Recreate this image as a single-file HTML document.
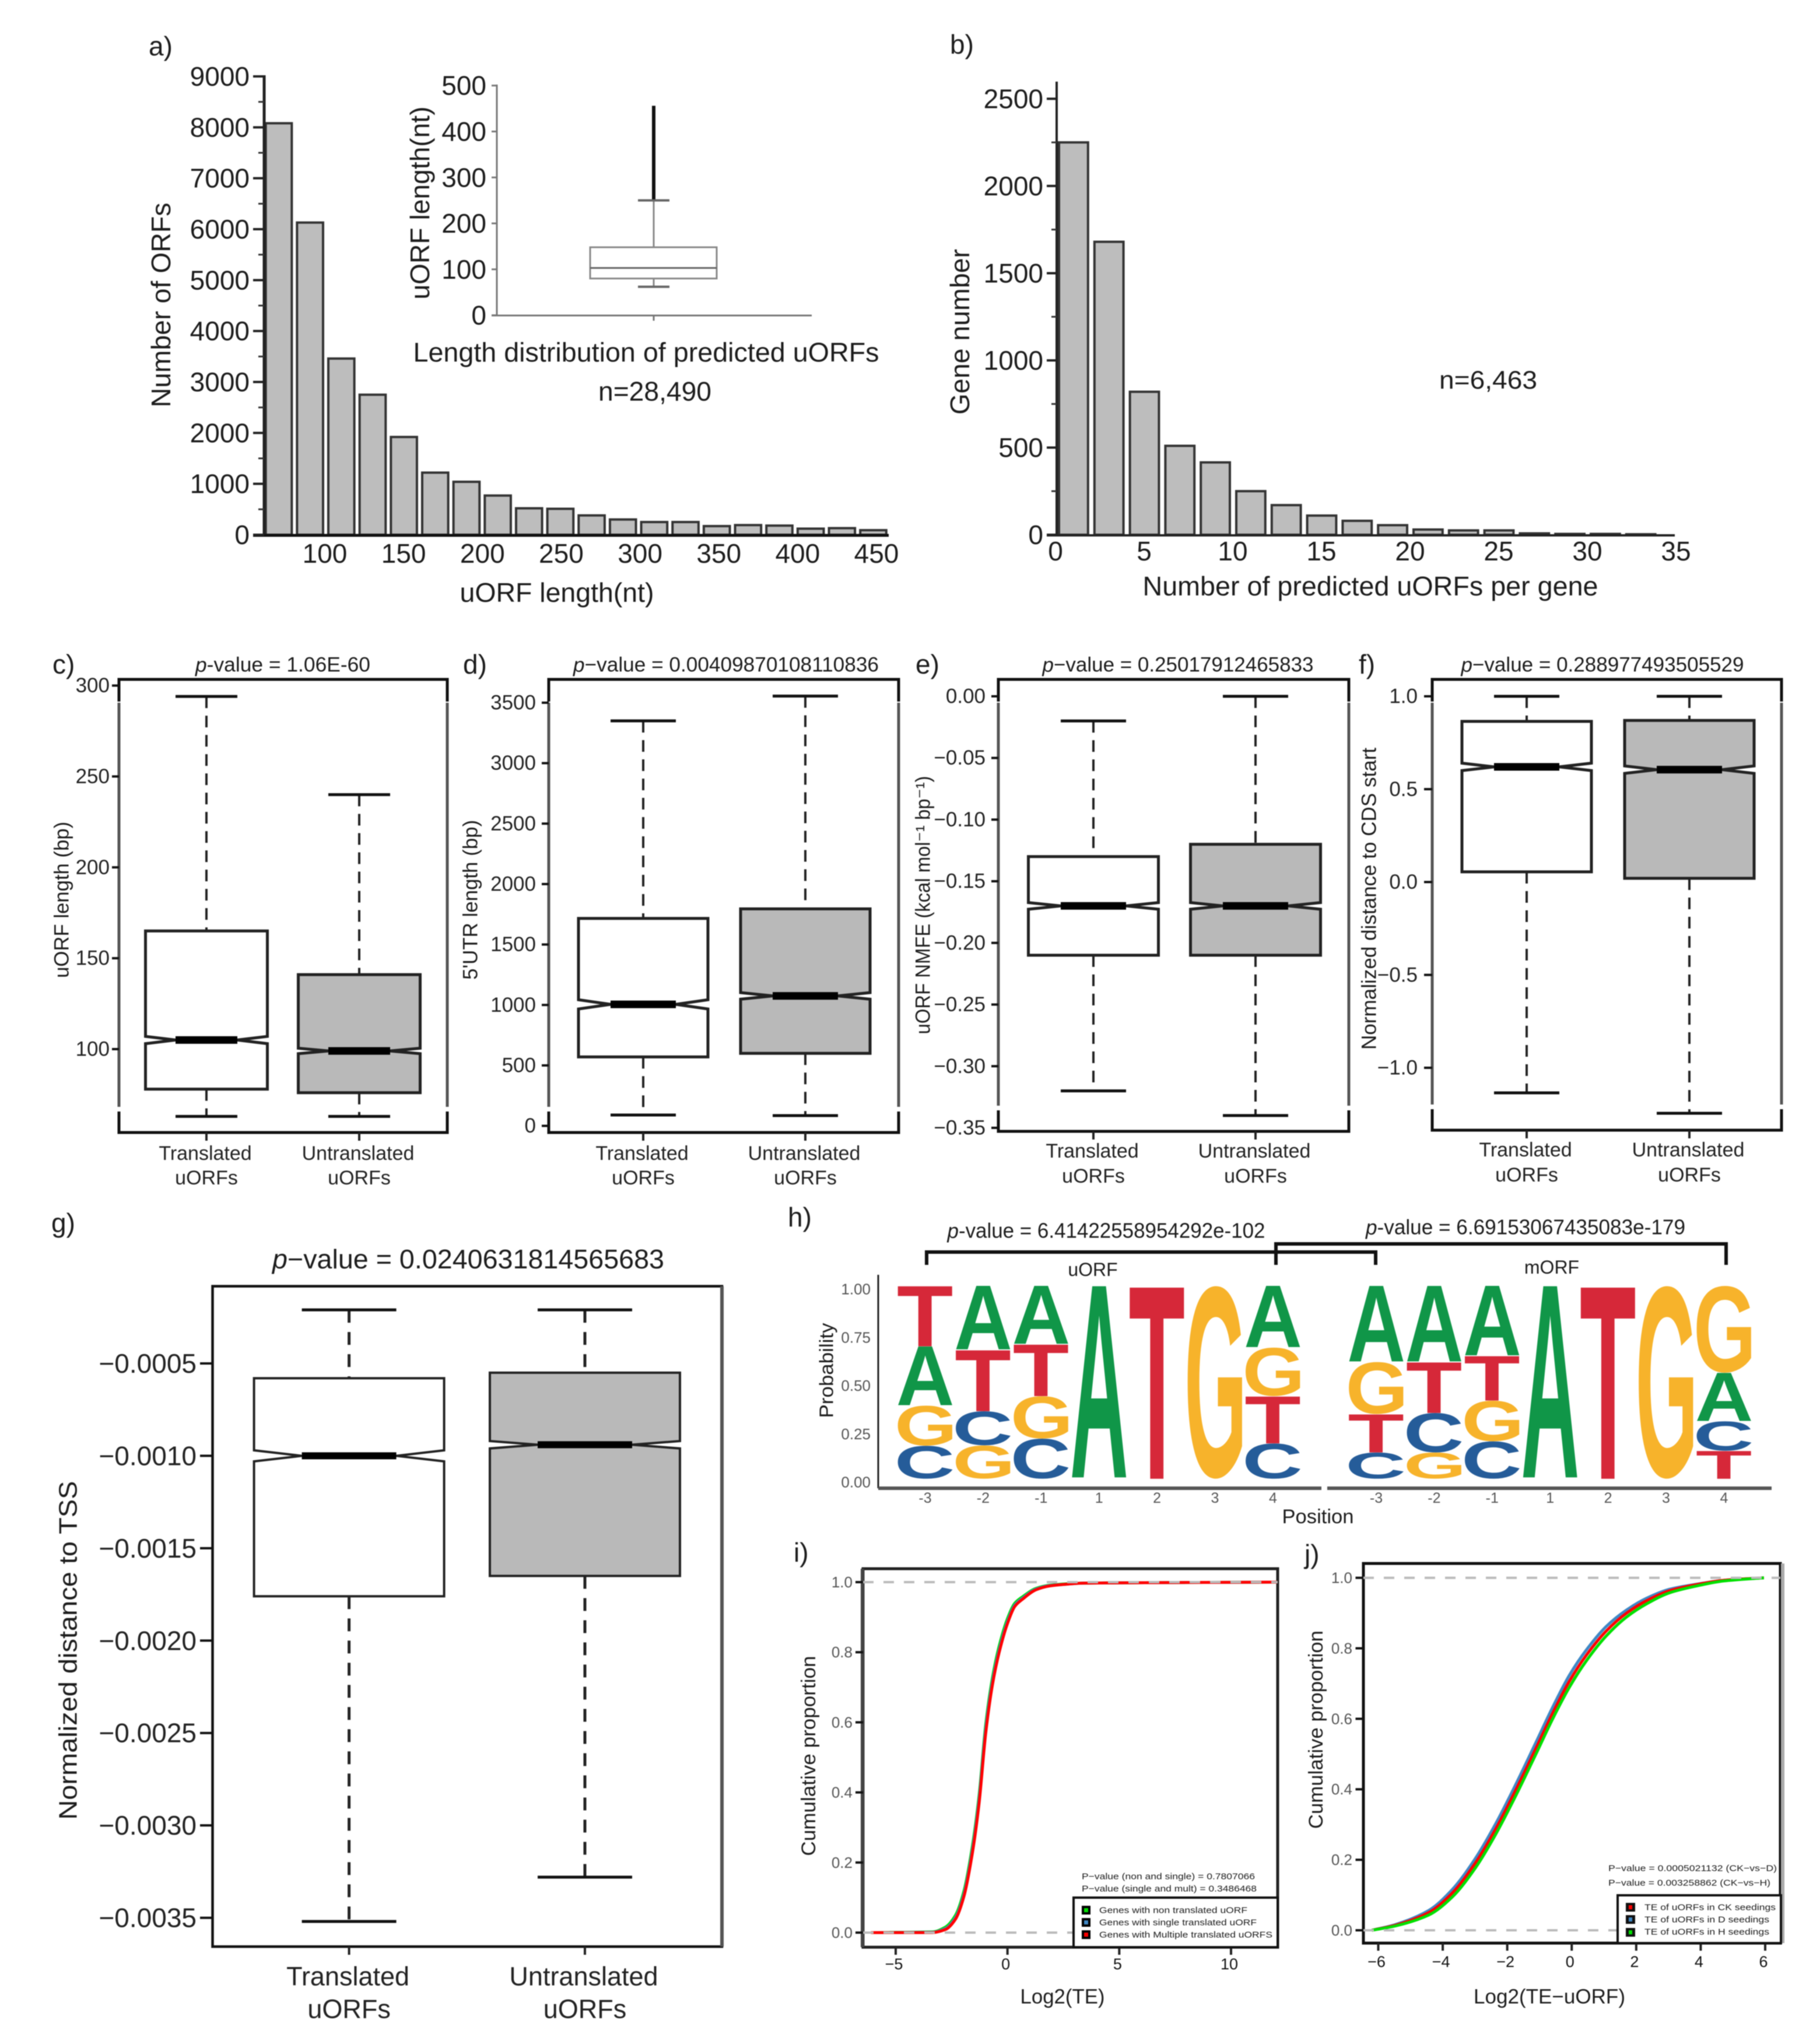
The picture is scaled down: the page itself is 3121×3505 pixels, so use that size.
<!DOCTYPE html>
<html lang="en">
<head>
<meta charset="utf-8">
<title>uORF analysis figure</title>
<style>
html,body{margin:0;padding:0;background:#fff;}
svg{display:block;filter:blur(0.9px);}
text{font-family:"Liberation Sans",sans-serif;fill:#1c1c1c;}
</style>
</head>
<body>
<svg id="fig" xmlns="http://www.w3.org/2000/svg" width="3121" height="3505" viewBox="0 0 3121 3505">
<rect x="0" y="0" width="3121" height="3505" fill="#fff"/>

<!-- panel labels -->
<g font-size="46">
<text x="255" y="95">a)</text>
<text x="1629" y="92">b)</text>
<text x="90" y="1155">c)</text>
<text x="794" y="1155">d)</text>
<text x="1570" y="1155">e)</text>
<text x="2330" y="1155">f)</text>
<text x="88" y="2113">g)</text>
<text x="1351" y="2103">h)</text>
<text x="1361" y="2678">i)</text>
<text x="2237" y="2681">j)</text>
</g>

<!-- panel a -->
<g id="panel-a">
<text x="955" y="1016" font-size="46" text-anchor="middle" dominant-baseline="central" textLength="333" lengthAdjust="spacingAndGlyphs">uORF length(nt)</text>
<text transform="translate(276 523) rotate(-90)" font-size="46" text-anchor="middle" dominant-baseline="central" textLength="351" lengthAdjust="spacingAndGlyphs">Number of ORFs</text>
</g>
<g id="panel-a-inset">
<text transform="translate(720 348) rotate(-90)" font-size="46" text-anchor="middle" dominant-baseline="central" textLength="331" lengthAdjust="spacingAndGlyphs">uORF length(nt)</text>
<text x="1108" y="604" font-size="46" text-anchor="middle" dominant-baseline="central" textLength="799" lengthAdjust="spacingAndGlyphs">Length distribution of predicted uORFs</text>
<text x="1123" y="671" font-size="46" text-anchor="middle" dominant-baseline="central" textLength="194" lengthAdjust="spacingAndGlyphs">n=28,490</text>
</g>

<!-- panel b -->
<g id="panel-b">
<text x="2350" y="1005" font-size="46" text-anchor="middle" dominant-baseline="central" textLength="781" lengthAdjust="spacingAndGlyphs">Number of predicted uORFs per gene</text>
<text transform="translate(1646 569) rotate(-90)" font-size="46" text-anchor="middle" dominant-baseline="central" textLength="284" lengthAdjust="spacingAndGlyphs">Gene number</text>
<text x="2552" y="652" font-size="44" text-anchor="middle" dominant-baseline="central" textLength="168" lengthAdjust="spacingAndGlyphs">n=6,463</text>
</g>

<!-- panels c-g -->
<g id="panel-c">
<text x="485" y="1140" font-size="35" text-anchor="middle" dominant-baseline="central" textLength="300" lengthAdjust="spacingAndGlyphs"><tspan font-style="italic">p</tspan>-value = 1.06E-60</text>
<text transform="translate(106 1543) rotate(-90)" font-size="35" fill="#333" text-anchor="middle" dominant-baseline="central" textLength="268" lengthAdjust="spacingAndGlyphs">uORF length (bp)</text>
</g>
<g id="panel-d">
<text x="1245" y="1140" font-size="35" text-anchor="middle" dominant-baseline="central" textLength="524" lengthAdjust="spacingAndGlyphs"><tspan font-style="italic">p</tspan>−value = 0.00409870108110836</text>
<text transform="translate(807 1543) rotate(-90)" font-size="35" fill="#333" text-anchor="middle" dominant-baseline="central" textLength="274" lengthAdjust="spacingAndGlyphs">5'UTR length (bp)</text>
</g>
<g id="panel-e">
<text x="2020" y="1140" font-size="35" text-anchor="middle" dominant-baseline="central" textLength="465" lengthAdjust="spacingAndGlyphs"><tspan font-style="italic">p</tspan>−value = 0.25017912465833</text>
<text transform="translate(1583 1552) rotate(-90)" font-size="35" fill="#333" text-anchor="middle" dominant-baseline="central" textLength="443" lengthAdjust="spacingAndGlyphs">uORF NMFE (kcal mol⁻¹ bp⁻¹)</text>
</g>
<g id="panel-f">
<text x="2748" y="1140" font-size="35" text-anchor="middle" dominant-baseline="central" textLength="485" lengthAdjust="spacingAndGlyphs"><tspan font-style="italic">p</tspan>−value = 0.288977493505529</text>
<text transform="translate(2348 1541) rotate(-90)" font-size="35" fill="#333" text-anchor="middle" dominant-baseline="central" textLength="518" lengthAdjust="spacingAndGlyphs">Normalized distance to CDS start</text>
</g>
<g id="panel-g">
<text x="803" y="2159" font-size="46" text-anchor="middle" dominant-baseline="central" textLength="672" lengthAdjust="spacingAndGlyphs"><tspan font-style="italic">p</tspan>−value = 0.0240631814565683</text>
<text transform="translate(117 2830) rotate(-90)" font-size="44" text-anchor="middle" dominant-baseline="central" textLength="581" lengthAdjust="spacingAndGlyphs">Normalized distance to TSS</text>
</g>

<!-- panel h -->
<g id="panel-h">
<text x="1897" y="2110" font-size="36" text-anchor="middle" dominant-baseline="central" textLength="545" lengthAdjust="spacingAndGlyphs"><tspan font-style="italic">p</tspan>-value = 6.41422558954292e-102</text>
<text x="2616" y="2104" font-size="36" text-anchor="middle" dominant-baseline="central" textLength="548" lengthAdjust="spacingAndGlyphs"><tspan font-style="italic">p</tspan>-value = 6.69153067435083e-179</text>
<path d="M1589 2169 V2147 H2359 V2169" fill="none" stroke="#111" stroke-width="6"/>
<path d="M2188 2169 V2133 H2960 V2169" fill="none" stroke="#111" stroke-width="6"/>
<text x="1874" y="2177" font-size="32" fill="#333" text-anchor="middle" dominant-baseline="central">uORF</text>
<text x="2661" y="2173" font-size="32" fill="#333" text-anchor="middle" dominant-baseline="central">mORF</text>
<text transform="translate(1417 2350) rotate(-90)" font-size="33" fill="#333" text-anchor="middle" dominant-baseline="central" textLength="163" lengthAdjust="spacingAndGlyphs">Probability</text>
<text x="2260" y="2601" font-size="34" fill="#333" text-anchor="middle" dominant-baseline="central" textLength="123" lengthAdjust="spacingAndGlyphs">Position</text>
<line x1="1506" y1="2186" x2="1506" y2="2552" stroke="#222" stroke-width="3"/>
<line x1="1506" y1="2552" x2="2266" y2="2552" stroke="#555" stroke-width="6"/>
<line x1="2276" y1="2552" x2="3038" y2="2552" stroke="#555" stroke-width="6"/>
</g>

<!-- panel i -->
<g id="panel-i">
<text x="1822" y="3424" font-size="35" text-anchor="middle" dominant-baseline="central" textLength="145" lengthAdjust="spacingAndGlyphs">Log2(TE)</text>
<text transform="translate(1387 3011) rotate(-90)" font-size="34" fill="#333" text-anchor="middle" dominant-baseline="central" textLength="343" lengthAdjust="spacingAndGlyphs">Cumulative proportion</text>
<g id="panel-i-marks"></g>
<text x="1855" y="3218" font-size="15" fill="#777" dominant-baseline="central" textLength="297" lengthAdjust="spacingAndGlyphs">P−value (non and single) = 0.7807066</text>
<text x="1855" y="3239" font-size="15" fill="#777" dominant-baseline="central" textLength="300" lengthAdjust="spacingAndGlyphs">P−value (single and mult) = 0.3486468</text>
<g>
<rect x="1841" y="3254" width="350" height="85" fill="#fff" stroke="#111" stroke-width="4"/>
<rect x="1855" y="3268" width="15" height="15" fill="#000"/><rect x="1859" y="3272" width="7" height="7" fill="#00e000"/>
<rect x="1855" y="3289" width="15" height="15" fill="#000"/><rect x="1859" y="3293" width="7" height="7" fill="#3f88c5"/>
<rect x="1855" y="3310" width="15" height="15" fill="#000"/><rect x="1859" y="3314" width="7" height="7" fill="#f00"/>
<text x="1885" y="3276" font-size="15" fill="#777" dominant-baseline="central" textLength="254" lengthAdjust="spacingAndGlyphs">Genes with non translated uORF</text>
<text x="1885" y="3297" font-size="15" fill="#777" dominant-baseline="central" textLength="270" lengthAdjust="spacingAndGlyphs">Genes with single translated uORF</text>
<text x="1885" y="3318" font-size="15" fill="#777" dominant-baseline="central" textLength="297" lengthAdjust="spacingAndGlyphs">Genes with Multiple translated uORFS</text>
</g>
</g>

<!-- panel j -->
<g id="panel-j">
<text x="2657" y="3424" font-size="35" text-anchor="middle" dominant-baseline="central" textLength="260" lengthAdjust="spacingAndGlyphs">Log2(TE−uORF)</text>
<text transform="translate(2257 2966) rotate(-90)" font-size="34" fill="#333" text-anchor="middle" dominant-baseline="central" textLength="340" lengthAdjust="spacingAndGlyphs">Cumulative proportion</text>
<g id="panel-j-marks"></g>
<text x="2758" y="3204" font-size="15" fill="#777" dominant-baseline="central" textLength="289" lengthAdjust="spacingAndGlyphs">P−value = 0.0005021132 (CK−vs−D)</text>
<text x="2758" y="3229" font-size="15" fill="#777" dominant-baseline="central" textLength="278" lengthAdjust="spacingAndGlyphs">P−value = 0.003258862 (CK−vs−H)</text>
<g>
<rect x="2774" y="3250" width="280" height="82" fill="#fff" stroke="#111" stroke-width="4"/>
<rect x="2788" y="3263" width="16" height="15" fill="#111"/><rect x="2793" y="3267" width="6" height="7" fill="#f00"/>
<rect x="2788" y="3284" width="16" height="15" fill="#111"/><rect x="2793" y="3288" width="6" height="7" fill="#3f88c5"/>
<rect x="2788" y="3306" width="16" height="15" fill="#111"/><rect x="2793" y="3310" width="6" height="7" fill="#00e000"/>
<text x="2820" y="3271" font-size="15" fill="#777" dominant-baseline="central" textLength="225" lengthAdjust="spacingAndGlyphs">TE of uORFs in CK seedings</text>
<text x="2820" y="3292" font-size="15" fill="#777" dominant-baseline="central" textLength="214" lengthAdjust="spacingAndGlyphs">TE of uORFs in D seedings</text>
<text x="2820" y="3313" font-size="15" fill="#777" dominant-baseline="central" textLength="214" lengthAdjust="spacingAndGlyphs">TE of uORFs in H seedings</text>
</g>
</g>
</svg>

<script>
// ---------- panel a data ----------
const aBinStarts = [60,80,100,120,140,160,180,200,220,240,260,280,300,320,340,360,380,400,420,440];
const aCounts = [8080,6130,3460,2750,1920,1220,1040,770,520,510,380,300,250,250,170,190,180,120,130,90];
const aXTicks = [100,150,200,250,300,350,400,450];
const aYTicks = [0,1000,2000,3000,4000,5000,6000,7000,8000,9000];
const aYMinorTicks = [500,1500,2500,3500,4500,5500,6500,7500,8500];
// inset
const insetTicks = [0,100,200,300,400,500];
const insetLowerCap = [62];
const insetQ1 = [80];
const insetMedian = [103];
const insetQ3 = [148];
const insetUpperCap = [250];
const insetMax = [456];
// ---------- panel b data ----------
const bBinStarts = [0,2,4,6,8,10,12,14,16,18,20,22,24,26,28,30,32];
const bCounts = [2250,1680,820,510,415,250,170,110,80,55,30,25,25,8,5,5,3];
const bXTicks = [0,5,10,15,20,25,30,35];
const bYTicks = [0,500,1000,1500,2000,2500];
const bYMinorTicks = [250,750,1250,1750,2250];
// ---------- boxplot data ----------
const categoryLines = [['Translated','uORFs'],['Untranslated','uORFs']];
const cTicks = [100,150,200,250,300];
const cMax = [294,240], cQ3 = [165,141], cMedian = [105,99], cQ1 = [78,76], cMin = [63,63], cNotch = [2,1.5];
const dTicks = [0,500,1000,1500,2000,2500,3000,3500];
const dMax = [3350,3555], dQ3 = [1716,1795], dMedian = [1005,1075], dQ1 = [570,600], dMin = [90,85], dNotch = [38,27];
const eTicks = [0,-0.05,-0.10,-0.15,-0.20,-0.25,-0.30,-0.35];
const eTickLabels = ['0.00','−0.05','−0.10','−0.15','−0.20','−0.25','−0.30','−0.35'];
const eMax = [-0.02,0], eQ3 = [-0.13,-0.12], eMedian = [-0.17,-0.17], eQ1 = [-0.21,-0.21], eMin = [-0.32,-0.34], eNotch = [0.0027,0.0027];
const fTicks = [1,0.5,0,-0.5,-1];
const fTickLabels = ['1.0','0.5','0.0','−0.5','−1.0'];
const fMax = [1,1], fQ3 = [0.865,0.87], fMedian = [0.62,0.605], fQ1 = [0.055,0.02], fMin = [-1.135,-1.245], fNotch = [0.02,0.02];
const gTicks = [-0.0005,-0.0010,-0.0015,-0.0020,-0.0025,-0.0030,-0.0035];
const gTickLabels = ['−0.0005','−0.0010','−0.0015','−0.0020','−0.0025','−0.0030','−0.0035'];
const gMax = [-0.00021,-0.00021], gQ3 = [-0.00058,-0.00055], gMedian = [-0.0010,-0.00094], gQ1 = [-0.00176,-0.00165], gMin = [-0.00352,-0.00328], gNotch = [0.00003,0.00002];
// ---------- sequence logo data ----------
const logoPositions = ['-3','-2','-1','1','2','3','4'];
const logoYTicks = [0,0.25,0.5,0.75,1];
const logoYTickLabels = ['0.00','0.25','0.50','0.75','1.00'];
const uorfA = [0.307,0.332,0.303,1,0,0,0.320];
const uorfC = [0.171,0.177,0.208,0,0,0,0.183];
const uorfG = [0.208,0.173,0.220,0,0,1,0.252];
const uorfT = [0.314,0.318,0.269,0,1,0,0.245];
const morfA = [0.395,0.395,0.363,1,0,0,0.251];
const morfC = [0.136,0.205,0.194,0,0,0,0.153];
const morfG = [0.270,0.136,0.211,0,0,1,0.451];
const morfT = [0.199,0.264,0.232,0,1,0,0.145];
// ---------- cumulative curves ----------
const iXTicks = [-5,0,5,10];
const iXTickLabels = ['−5','0','5','10'];
const cdfYTicks = [0,0.2,0.4,0.6,0.8,1];
const iLog2TE = [-6.1,-3.37,-2.77,-2.32,-1.95,-1.57,-1.27,-0.97,-0.67,-0.37,0,0.33,0.67,1.27,1.87,2.62,3.37,4.87,12.05];
const iNonTranslated = [0,0.002,0.016,0.050,0.118,0.247,0.392,0.596,0.728,0.818,0.896,0.940,0.958,0.982,0.991,0.995,0.997,0.998,1];
const iSingleTranslated = [0,0.001,0.012,0.044,0.110,0.237,0.382,0.585,0.718,0.808,0.888,0.935,0.954,0.980,0.990,0.994,0.997,0.998,1];
const iMultipleTranslated = [0,0,0.009,0.039,0.103,0.227,0.369,0.571,0.708,0.800,0.882,0.931,0.951,0.978,0.989,0.994,0.997,0.998,1];
const jXTicks = [-6,-4,-2,0,2,4,6];
const jXTickLabels = ['−6','−4','−2','0','2','4','6'];
const jLog2TE = [-6.2,-5.48,-4.44,-3.71,-2.98,-2.36,-1.74,-1.11,-0.59,-0.07,0.45,1.07,1.69,2.32,3.05,3.88,4.71,5.96];
const jCK = [0,0.014,0.05,0.105,0.192,0.287,0.397,0.516,0.616,0.707,0.78,0.849,0.899,0.935,0.964,0.981,0.993,1];
const jD = [0,0.016,0.056,0.115,0.205,0.302,0.413,0.533,0.633,0.724,0.795,0.862,0.908,0.942,0.968,0.982,0.993,1];
const jH = [0,0.012,0.043,0.094,0.178,0.272,0.381,0.5,0.6,0.69,0.764,0.835,0.888,0.926,0.958,0.977,0.991,1];

// ---------- helpers ----------
const NS = 'http://www.w3.org/2000/svg';
function mk(tag, attrs, parent) {
  const el = document.createElementNS(NS, tag);
  for (const k in attrs) el.setAttribute(k, attrs[k]);
  
  parent.appendChild(el);
  return el;
}
function scale(d0, d1, r0, r1) {
  return v => r0 + (v - d0) * (r1 - r0) / (d1 - d0);
}
function label(parent, x, y, str, size, anchor, fill) {
  const t = mk('text', {x: x, y: y, 'font-size': size, 'text-anchor': anchor, 'dominant-baseline': 'central', fill: fill || '#1c1c1c'}, parent);
  t.setAttribute('style', 'fill:' + (fill || '#1c1c1c'));
  t.textContent = str;
  return t;
}
// monotone cubic path through screen points
function smoothPath(px, py) {
  const n = px.length, d = [], m = [];
  for (let i = 0; i < n - 1; i++) d.push((py[i + 1] - py[i]) / (px[i + 1] - px[i]));
  m[0] = d[0]; m[n - 1] = d[n - 2];
  for (let i = 1; i < n - 1; i++) m[i] = d[i - 1] * d[i] <= 0 ? 0 : 2 * d[i - 1] * d[i] / (d[i - 1] + d[i]);
  let s = 'M' + px[0] + ' ' + py[0];
  for (let i = 0; i < n - 1; i++) {
    const h = (px[i + 1] - px[i]) / 3;
    s += ' C' + (px[i] + h) + ' ' + (py[i] + m[i] * h) + ' ' + (px[i + 1] - h) + ' ' + (py[i + 1] - m[i + 1] * h) + ' ' + px[i + 1] + ' ' + py[i + 1];
  }
  return s;
}

// ---------- panel a ----------
(function () {
  const g = document.getElementById('panel-a');
  const x = scale(100, 450, 558.5, 1497.5);
  const xLabel = scale(100, 450, 557, 1503);
  const y = scale(0, 9000, 917, 131);
  aCounts.forEach((c, i) => {
    const x0 = x(aBinStarts[i]), x1 = x(aBinStarts[i] + 20);
    const bar = mk('rect', {x: x0 + 4.5, y: y(c), width: x1 - x0 - 9, height: y(0) - y(c), fill: '#bdbdbd', stroke: '#333', 'stroke-width': 4}, g);
    
  });
  const yAxis = mk('line', {x1: 453, y1: 129, x2: 453, y2: 919, stroke: '#222', 'stroke-width': 5}, g);
  
  const xAxis = mk('line', {x1: 434, y1: 918, x2: 1524, y2: 918, stroke: '#111', 'stroke-width': 5}, g);
  
  aYTicks.forEach(v => {
    const tick = mk('line', {x1: 434, y1: y(v), x2: 453, y2: y(v), stroke: '#222', 'stroke-width': 4}, g);
    
    const lab = label(g, 428, y(v), String(v), 46, 'end');
    
  });
  aYMinorTicks.forEach(v => {
    const tick = mk('line', {x1: 443, y1: y(v), x2: 453, y2: y(v), stroke: '#333', 'stroke-width': 3}, g);
    
  });
  aXTicks.forEach(v => {
    const lab = label(g, xLabel(v), 949, String(v), 46, 'middle');
    
  });
})();

// ---------- inset ----------
(function () {
  const g = document.getElementById('panel-a-inset');
  const y = scale(0, 500, 540.6, 146.7);
  const cx = 1121;
  const axisY = mk('line', {x1: 852, y1: 145, x2: 852, y2: 541, stroke: '#777', 'stroke-width': 3}, g);
  
  const axisX = mk('line', {x1: 843, y1: 541, x2: 1392, y2: 541, stroke: '#777', 'stroke-width': 3}, g);
  
  const xTick = mk('line', {x1: cx, y1: 541, x2: cx, y2: 550, stroke: '#777', 'stroke-width': 3}, g);
  
  insetTicks.forEach(v => {
    const tick = mk('line', {x1: 843, y1: y(v), x2: 852, y2: y(v), stroke: '#777', 'stroke-width': 3}, g);
    
    const lab = label(g, 834, y(v), String(v), 46, 'end');
    
  });
  const outliers = mk('line', {x1: cx, y1: y(insetMax[0]), x2: cx, y2: y(insetUpperCap[0]), stroke: '#111', 'stroke-width': 6}, g);
  
  const upper = mk('line', {x1: cx, y1: y(insetUpperCap[0]), x2: cx, y2: y(insetQ3[0]), stroke: '#888', 'stroke-width': 3}, g);
  
  const lower = mk('line', {x1: cx, y1: y(insetQ1[0]), x2: cx, y2: y(insetLowerCap[0]), stroke: '#888', 'stroke-width': 3}, g);
  
  const capU = mk('line', {x1: cx - 27, y1: y(insetUpperCap[0]), x2: cx + 27, y2: y(insetUpperCap[0]), stroke: '#666', 'stroke-width': 4}, g);
  
  const capL = mk('line', {x1: cx - 27, y1: y(insetLowerCap[0]), x2: cx + 27, y2: y(insetLowerCap[0]), stroke: '#666', 'stroke-width': 4}, g);
  
  const box = mk('rect', {x: 1012, y: y(insetQ3[0]), width: 217, height: y(insetQ1[0]) - y(insetQ3[0]), fill: '#fff', stroke: '#888', 'stroke-width': 3}, g);
  
  const med = mk('line', {x1: 1012, y1: y(insetMedian[0]), x2: 1229, y2: y(insetMedian[0]), stroke: '#666', 'stroke-width': 3}, g);
  
})();

// ---------- panel b ----------
(function () {
  const g = document.getElementById('panel-b');
  const x = scale(0, 35, 1810, 2874);
  const y = scale(0, 2500, 917, 169.4);
  bCounts.forEach((c, i) => {
    const x0 = x(bBinStarts[i]), x1 = x(bBinStarts[i] + 2);
    const bar = mk('rect', {x: x0 + 6, y: y(c), width: x1 - x0 - 11, height: y(0) - y(c), fill: '#bdbdbd', stroke: '#333', 'stroke-width': 4}, g);
    
  });
  const yAxis = mk('line', {x1: 1812, y1: 140, x2: 1812, y2: 918, stroke: '#222', 'stroke-width': 4}, g);
  
  const xAxis = mk('line', {x1: 1795, y1: 918, x2: 2872, y2: 918, stroke: '#222', 'stroke-width': 4}, g);
  
  bYTicks.forEach(v => {
    const tick = mk('line', {x1: 1795, y1: y(v), x2: 1812, y2: y(v), stroke: '#222', 'stroke-width': 4}, g);
    
    const lab = label(g, 1789, y(v), String(v), 46, 'end');
    
  });
  bYMinorTicks.forEach(v => {
    const tick = mk('line', {x1: 1803, y1: y(v), x2: 1812, y2: y(v), stroke: '#333', 'stroke-width': 3}, g);
    
  });
  bXTicks.forEach(v => {
    const lab = label(g, x(v), 945, String(v), 46, 'middle');
    
  });
})();

// ---------- boxplots ----------
function drawBox(cfg) {
  const g = document.getElementById(cfg.id);
  const y = scale(cfg.refV[0], cfg.refV[1], cfg.refY[0], cfg.refY[1]);
  const fr = cfg.frame;
  const frame = mk('rect', {x: fr[0], y: fr[1], width: fr[2] - fr[0], height: fr[3] - fr[1], fill: '#fff', stroke: '#111', 'stroke-width': cfg.frameW}, g);
  
  if (cfg.sideGap) {
    [fr[0], fr[2]].forEach(sx => {
      const gap = mk('line', {x1: sx, y1: fr[1] + 38, x2: sx, y2: fr[3] - 36, stroke: '#fff', 'stroke-width': 7}, g);
      
      const side = mk('line', {x1: sx, y1: fr[1] + 40, x2: sx, y2: fr[3] - 44, stroke: '#555', 'stroke-width': 5}, g);
      
    });
  }
  if (cfg.rightGrey) {
    const side = mk('line', {x1: fr[2], y1: fr[1], x2: fr[2], y2: fr[3], stroke: '#555', 'stroke-width': 6}, g);
    
  }
  cfg.ticks.forEach((v, i) => {
    const tick = mk('line', {x1: cfg.tickLeft, y1: y(v), x2: fr[0], y2: y(v), stroke: '#111', 'stroke-width': 4}, g);
    
    const lab = label(g, cfg.labelRight, y(v), cfg.tickLabels ? cfg.tickLabels[i] : String(v), cfg.fontSize, 'end', '#222');
    
  });
  cfg.centers.forEach((cx, i) => {
    const upperW = mk('line', {x1: cx, y1: y(cfg.max[i]), x2: cx, y2: y(cfg.q3[i]), stroke: '#222', 'stroke-width': cfg.whiskerW, 'stroke-dasharray': cfg.dash}, g);
    
    const lowerW = mk('line', {x1: cx, y1: y(cfg.q1[i]), x2: cx, y2: y(cfg.min[i]), stroke: '#222', 'stroke-width': cfg.whiskerW, 'stroke-dasharray': cfg.dash}, g);
    
    const capU = mk('line', {x1: cx - cfg.capHalf, y1: y(cfg.max[i]), x2: cx + cfg.capHalf, y2: y(cfg.max[i]), stroke: '#111', 'stroke-width': 5}, g);
    
    const capL = mk('line', {x1: cx - cfg.capHalf, y1: y(cfg.min[i]), x2: cx + cfg.capHalf, y2: y(cfg.min[i]), stroke: '#111', 'stroke-width': 5}, g);
    
    const l = cx - cfg.half, r = cx + cfg.half, nl = cx - cfg.capHalf, nr = cx + cfg.capHalf;
    const hi = y(cfg.median[i] + cfg.notch[i]), lo = y(cfg.median[i] - cfg.notch[i]), m = y(cfg.median[i]);
    const d = 'M' + l + ' ' + y(cfg.q3[i]) + ' H' + r + ' V' + hi + ' L' + nr + ' ' + m + ' L' + r + ' ' + lo +
      ' V' + y(cfg.q1[i]) + ' H' + l + ' V' + lo + ' L' + nl + ' ' + m + ' L' + l + ' ' + hi + ' Z';
    const box = mk('path', {d: d, fill: i === 0 ? '#fff' : '#b9b9b9', stroke: '#222', 'stroke-width': cfg.boxW}, g);
    
    const med = mk('line', {x1: nl, y1: m, x2: nr, y2: m, stroke: '#000', 'stroke-width': cfg.medianW}, g);
    
    const xt = mk('line', {x1: cx, y1: fr[3], x2: cx, y2: fr[3] + 14, stroke: '#222', 'stroke-width': 4}, g);
    
    const l1 = label(g, cx - 2, cfg.catY[0], categoryLines[i][0], cfg.catSize, 'middle', '#222');
    
    const l2 = label(g, cx, cfg.catY[1], categoryLines[i][1], cfg.catSize, 'middle', '#222');
    
  });
}
const boxCommon = {fontSize: 35, catSize: 34, frameW: 5, boxW: 5, whiskerW: 4, medianW: 13, dash: '20 13', sideGap: true};
drawBox(Object.assign({}, boxCommon, {id: 'panel-c', frame: [204,1165,767,1942], refV: [100,300], refY: [1799,1175.6], ticks: cTicks,
  labelRight: 188, tickLeft: 192, centers: [354,616], half: 104.5, capHalf: 53, max: cMax, q3: cQ3, median: cMedian, q1: cQ1, min: cMin, notch: cNotch, catY: [1978,2020]}));
drawBox(Object.assign({}, boxCommon, {id: 'panel-d', frame: [941,1165,1541,1942], refV: [0,3500], refY: [1930.6,1205], ticks: dTicks,
  labelRight: 919, tickLeft: 929, centers: [1103,1381], half: 111, capHalf: 56, max: dMax, q3: dQ3, median: dMedian, q1: dQ1, min: dMin, notch: dNotch, catY: [1978,2020]}));
drawBox(Object.assign({}, boxCommon, {id: 'panel-e', frame: [1712,1165,2313,1940], refV: [0,-0.35], refY: [1194,1934], ticks: eTicks, tickLabels: eTickLabels,
  labelRight: 1690, tickLeft: 1700, centers: [1875,2153], half: 111.5, capHalf: 56, max: eMax, q3: eQ3, median: eMedian, q1: eQ1, min: eMin, notch: eNotch, catY: [1974,2017]}));
drawBox(Object.assign({}, boxCommon, {id: 'panel-f', frame: [2456,1165,3055,1938], refV: [1,-1], refY: [1194,1831], ticks: fTicks, tickLabels: fTickLabels,
  labelRight: 2431, tickLeft: 2442, centers: [2618,2897], half: 111, capHalf: 56, max: fMax, q3: fQ3, median: fMedian, q1: fQ1, min: fMin, notch: fNotch, catY: [1972,2015]}));
drawBox({id: 'panel-g', fontSize: 46, catSize: 45, frameW: 4.5, boxW: 4, whiskerW: 5, medianW: 12, dash: '22 16', rightGrey: true, frame: [364.5,2205.6,1238,3338], refV: [-0.0005,-0.0035], refY: [2338,3288.6], ticks: gTicks, tickLabels: gTickLabels,
  labelRight: 337, tickLeft: 343, centers: [598.6,1003], half: 163, capHalf: 81, max: gMax, q3: gQ3, median: gMedian, q1: gQ1, min: gMin, notch: gNotch, catY: [3389,3445]});

// ---------- sequence logo ----------
const logoColors = {A: '#109648', C: '#255C99', G: '#F7B32B', T: '#D62839'};
(function () {
  const g = document.getElementById('panel-h');
  const ctx = document.createElement('canvas').getContext('2d');
  ctx.font = 'bold 200px "Liberation Sans"';
  const y = scale(0, 1, 2535.7, 2204.7);
  const colStep = 99.4, letterW = 94;
  function stack(originX, A, C, G, T, facet) {
    logoPositions.forEach((pos, i) => {
      const cx = originX + i * colStep;
      const rows = [['A', A[i]], ['C', C[i]], ['G', G[i]], ['T', T[i]]].filter(r => r[1] > 0).sort((p, q) => p[1] - q[1]);
      let cum = 0;
      rows.forEach(r => {
        const top = cum + r[1];
        const m = ctx.measureText(r[0]);
        const sx = letterW / (m.actualBoundingBoxLeft + m.actualBoundingBoxRight);
        const sy = (y(cum) - y(top)) / (m.actualBoundingBoxAscent + m.actualBoundingBoxDescent);
        const tx = cx - letterW / 2 + m.actualBoundingBoxLeft * sx;
        const ty = y(cum) - m.actualBoundingBoxDescent * sy;
        const t = mk('text', {'font-size': 200, 'font-weight': 'bold', transform: 'translate(' + tx + ' ' + ty + ') scale(' + sx + ' ' + sy + ')'}, g);
        t.setAttribute('style', 'fill:' + logoColors[r[0]]);
        t.textContent = r[0];
        
        cum = top;
      });
      const lab = label(g, cx, 2569, pos, 25, 'middle', '#555');
      
    });
  }
  stack(1586.5, uorfA, uorfC, uorfG, uorfT, 'uorf');
  stack(2360, morfA, morfC, morfG, morfT, 'morf');
  logoYTicks.forEach((v, i) => {
    const lab = label(g, 1493, y(v) + 6, logoYTickLabels[i], 26, 'end', '#555');
    
  });
})();

// ---------- cumulative panels ----------
function drawCdf(cfg) {
  const g = document.getElementById(cfg.id);
  const x = scale(cfg.refX[0], cfg.refX[1], cfg.refPx[0], cfg.refPx[1]);
  const y = scale(0, 1, cfg.y0, cfg.y1);
  const fr = cfg.frame;
  const frame = mk('rect', {x: fr[0], y: fr[1], width: fr[2] - fr[0], height: fr[3] - fr[1], fill: '#fff', stroke: cfg.frameColor, 'stroke-width': 5}, g);
  
  if (cfg.heavySide !== undefined) {
    const side = mk('line', {x1: cfg.heavySide, y1: fr[1], x2: cfg.heavySide, y2: fr[3], stroke: cfg.heavyColor, 'stroke-width': 6}, g);
    
  }
  cdfYTicks.forEach(v => {
    const tick = mk('line', {x1: cfg.tickLeft, y1: y(v), x2: fr[0], y2: y(v), stroke: '#111', 'stroke-width': 4}, g);
    
    const lab = label(g, cfg.labelRight, y(v), v.toFixed(1), 26, 'end', '#555');
    
  });
  cfg.xTicks.forEach((v, i) => {
    const tick = mk('line', {x1: x(v), y1: fr[3], x2: x(v), y2: fr[3] + 13, stroke: '#222', 'stroke-width': 4}, g);
    
    const lab = label(g, x(v) - 3, cfg.xLabelY, cfg.xTickLabels[i], 27, 'middle', '#111');
    
  });
  cfg.series.forEach(s => {
    const d = smoothPath(cfg.xs.map(x), s.values.map(y));
    const line = mk('path', {d: d, fill: 'none', stroke: s.color, 'stroke-width': 5, 'stroke-linejoin': 'round'}, g);
    
  });
  [0, 1].forEach(v => {
    const ref = mk('line', {x1: fr[0], y1: y(v), x2: fr[2], y2: y(v), stroke: '#bbb', 'stroke-width': 4, 'stroke-dasharray': '18 17'}, g);
    
  });
}
drawCdf({id: 'panel-i-marks', frame: [1480,2690,2191,3339], frameColor: '#222', heavySide: 1479, heavyColor: '#444', refX: [-5,10], refPx: [1536,2111], y0: 3314, y1: 2713, tickLeft: 1467, labelRight: 1462,
  xTicks: iXTicks, xTickLabels: iXTickLabels, xLabelY: 3368, xs: iLog2TE,
  series: [{key: 'non-translated', color: '#00e000', values: iNonTranslated}, {key: 'single-translated', color: '#3f88c5', values: iSingleTranslated}, {key: 'multiple-translated', color: '#ff0000', values: iMultipleTranslated}]});
drawCdf({id: 'panel-j-marks', frame: [2338,2681,3053,3332], frameColor: '#111', heavySide: 3057, heavyColor: '#aaa', refX: [-6,6], refPx: [2363.5,3027], y0: 3310, y1: 2705.6, tickLeft: 2324.5, labelRight: 2319,
  xTicks: jXTicks, xTickLabels: jXTickLabels, xLabelY: 3364, xs: jLog2TE,
  series: [{key: 'd', color: '#3f88c5', values: jD}, {key: 'ck', color: '#ff0000', values: jCK}, {key: 'h', color: '#00e000', values: jH}]});
</script>
</body>
</html>
